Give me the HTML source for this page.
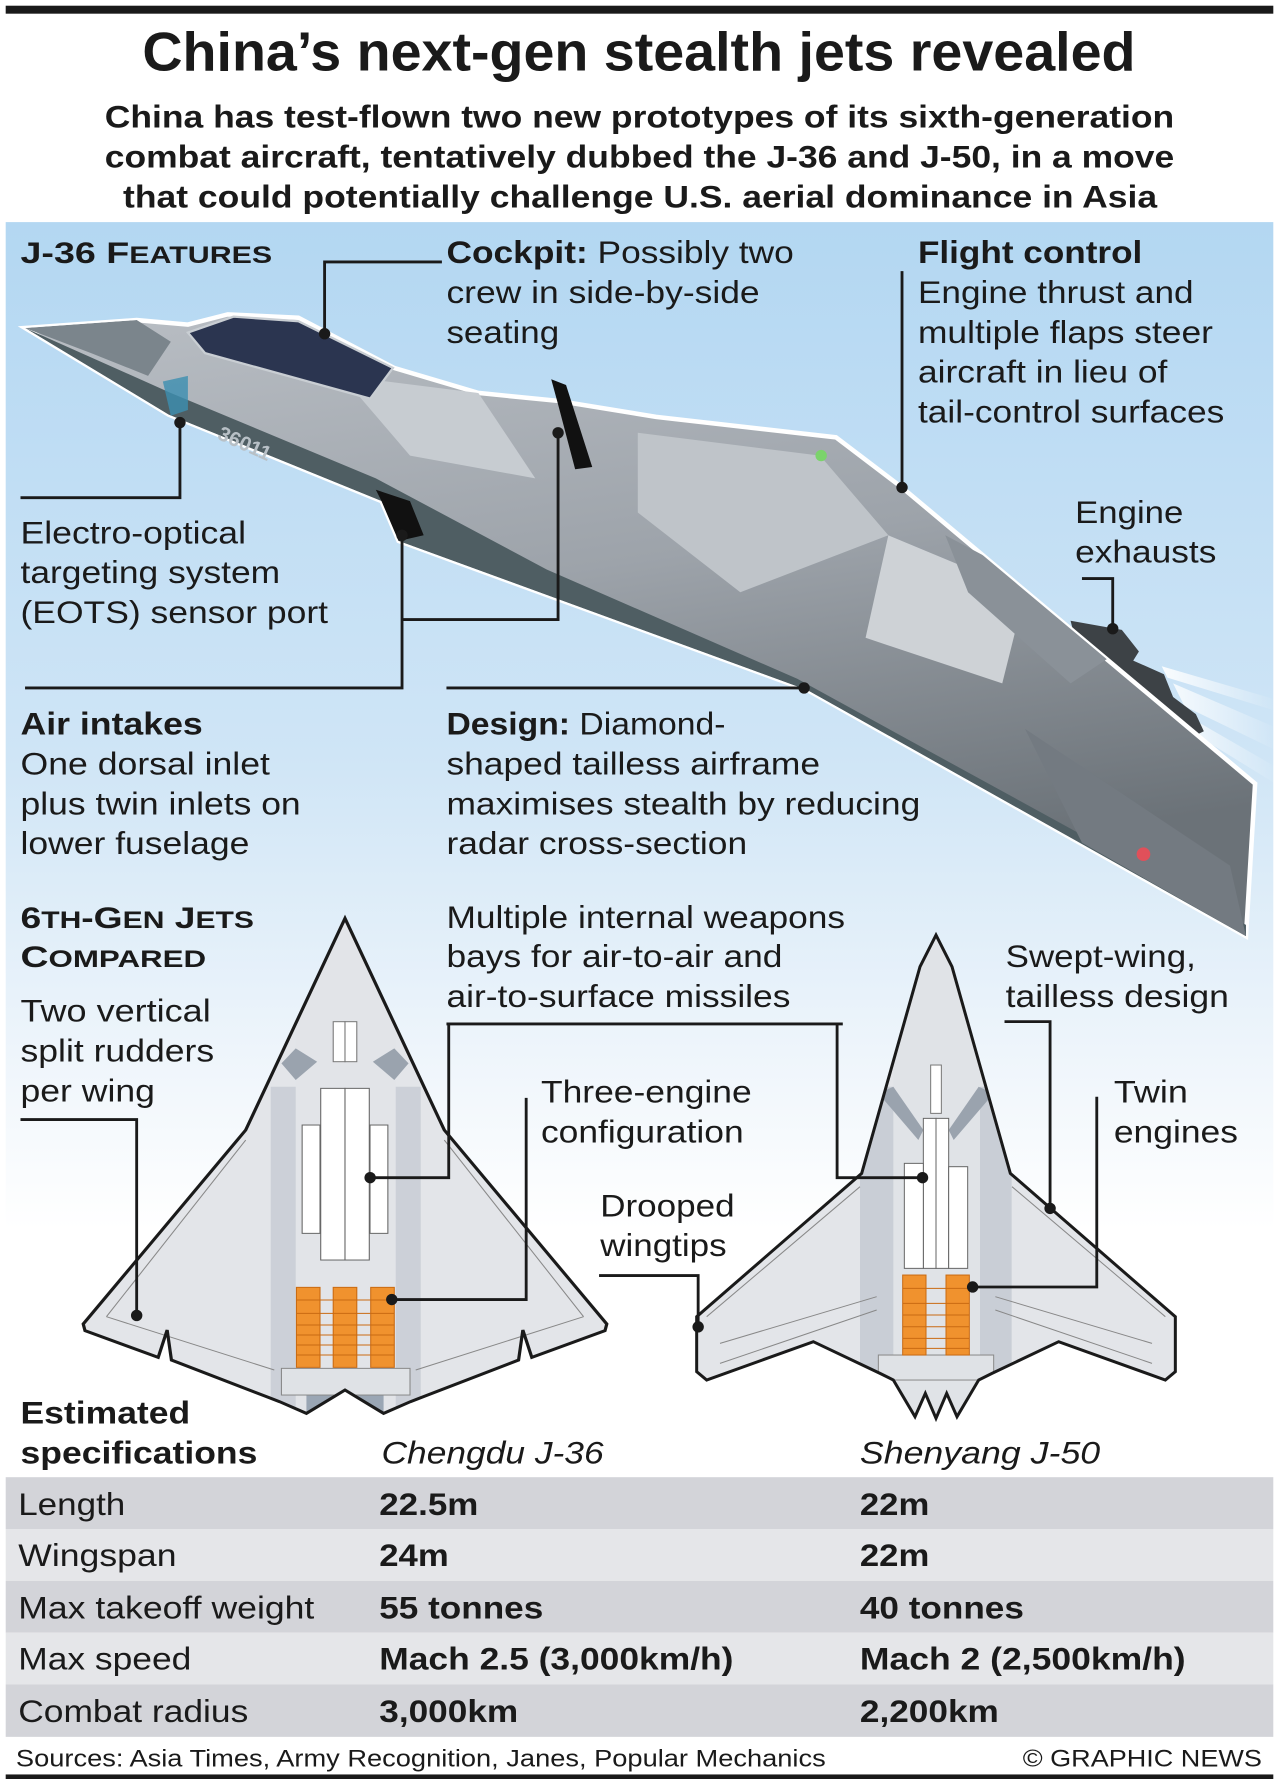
<!DOCTYPE html>
<html><head><meta charset="utf-8"><style>
html,body{margin:0;padding:0;background:#fff}
svg{display:block}
text{font-family:"Liberation Sans",Arial,sans-serif;fill:#1a1a1a}
.b{font-weight:bold}
.t{font-size:28px}
</style></head><body>
<svg width="1279" height="1783" viewBox="0 0 1123 1565.5" xmlns="http://www.w3.org/2000/svg">
<defs>
<linearGradient id="sky" x1="0" y1="0" x2="0" y2="1">
<stop offset="0" stop-color="#b3d7f2"/><stop offset="0.45" stop-color="#cfe5f6"/><stop offset="0.7" stop-color="#eef5fb"/><stop offset="0.85" stop-color="#ffffff"/>
</linearGradient>
<linearGradient id="body" x1="0" y1="0" x2="0.3" y2="1">
<stop offset="0" stop-color="#b9bec4"/><stop offset="0.5" stop-color="#9da3aa"/><stop offset="1" stop-color="#6b7278"/>
</linearGradient>
<linearGradient id="streak" x1="0" y1="0" x2="1" y2="0">
<stop offset="0" stop-color="#fff" stop-opacity="0.9"/><stop offset="1" stop-color="#fff" stop-opacity="0"/>
</linearGradient>
<clipPath id="jetclip"><polygon points="22,288 120,281 165,285 200,276 262,279 346,323 420,345 490,352 576,366 734,384 792,428 1102,688 1094,822 709,606 350,475 335,440 148,364"/></clipPath>
<clipPath id="j36clip"><polygon points="798,55 1076,690 1531,1272 1526,1292 1321,1372 1296,1290 1284,1380 981,1505 906,1540 798,1470 690,1540 615,1505 312,1380 300,1290 275,1372 70,1292 65,1272 520,690"/></clipPath>
<clipPath id="j50clip"><polygon points="768,105 816,200 991,820 1486,1250 1486,1415 1456,1440 1136,1325 936,1420 896,1440 831,1550 800,1480 768,1555 736,1480 705,1550 640,1440 600,1420 400,1325 80,1440 50,1415 50,1250 545,820 720,200"/></clipPath>
</defs>
<rect x="0" y="0" width="1123" height="1566" fill="#fff"/>
<rect x="5" y="5" width="1113" height="7" fill="#1a1a1a"/>
<rect x="5" y="195" width="1113" height="1040" fill="url(#sky)"/>

<text x="125" y="62" class="b" font-size="48" textLength="872" lengthAdjust="spacingAndGlyphs">China’s next-gen stealth jets revealed</text>
<text x="92" y="112" class="b" font-size="28" textLength="939" lengthAdjust="spacingAndGlyphs">China has test-flown two new prototypes of its sixth-generation</text>
<text x="92" y="147" class="b" font-size="28" textLength="939" lengthAdjust="spacingAndGlyphs">combat aircraft, tentatively dubbed the J-36 and J-50, in a move</text>
<text x="108" y="182" class="b" font-size="28" textLength="908" lengthAdjust="spacingAndGlyphs">that could potentially challenge U.S. aerial dominance in Asia</text>

<!-- main jet -->
<path d="M1030,600 L1123,640 L1123,660 L1040,620Z M1045,630 L1123,675 L1123,690 L1050,645Z M1020,585 L1123,615 L1123,625 L1025,595Z" fill="url(#streak)"/>
<polygon points="940,545 985,553 1000,572 995,580 1022,592 1030,612 1050,627 1057,642 1045,648 1000,612 950,585" fill="#3d4246"/>
<polygon points="22,288 120,281 165,285 200,276 262,279 346,323 420,345 490,352 576,366 734,384 792,428 1102,688 1094,822 709,606 350,475 335,440 148,364" fill="url(#body)" stroke="#fff" stroke-width="4"/>
<g clip-path="url(#jetclip)">
<polygon points="22,288 148,364 335,440 350,475 709,606 1094,822 1094,812 700,596 480,500 330,420 150,345" fill="#4f5e63"/>
<polygon points="22,288 120,281 150,300 130,330 80,310" fill="#7b858c"/>
<polygon points="300,330 420,345 470,420 360,400" fill="#c7ccd1"/>
<polygon points="560,380 720,400 780,470 650,520 560,450" fill="#bfc4c9"/>
<polygon points="780,470 900,520 880,600 760,560" fill="#ced2d6"/>
<polygon points="830,470 1000,560 940,600 850,520" fill="#8a9198"/>
<polygon points="900,640 1080,760 1094,822 950,740" fill="#737a81"/>
</g>
<polygon points="165,292 205,278 262,282 345,323 325,350 180,310" fill="#2b3550" stroke="#c9ced3" stroke-width="2"/>
<polygon points="484,333 497,338 520,410 505,412 490,355" fill="#111"/>
<polygon points="330,430 360,440 372,470 350,475 335,440" fill="#111"/>
<polygon points="143,335 165,330 165,360 150,365" fill="#3c8fb0" opacity="0.8"/>
<text x="190" y="385" font-size="18" font-weight="bold" style="fill:#b8c0c6" transform="rotate(24 190 385)">36011</text>
<circle cx="721" cy="400" r="5" fill="#7bd36b"/>
<circle cx="1004" cy="750" r="6" fill="#e0505a"/>

<g stroke="#1a1a1a" stroke-width="2.5" fill="none">
<polyline points="388,230 285,230 285,293"/>
<polyline points="18,437 158,437 158,371"/>
<polyline points="353,544 490,544 490,380"/>
<polyline points="22,604 353,604 353,470"/>
<polyline points="392,604 706,604"/>
<polyline points="792,238 792,428"/>
<polyline points="950,508 977,508 977,552"/>
</g>
<g fill="#1a1a1a">
<circle cx="285" cy="293" r="5"/><circle cx="158" cy="371" r="5"/><circle cx="490" cy="380" r="5"/>
<circle cx="353" cy="470" r="5"/><circle cx="706" cy="604" r="5"/><circle cx="792" cy="428" r="5"/><circle cx="977" cy="552" r="5"/>
</g>

<!-- J-36 planform -->
<g transform="scale(0.87804) translate(60,900) scale(0.35714,0.33333)">
<polygon points="798,55 1076,690 1531,1272 1526,1292 1321,1372 1296,1290 1284,1380 981,1505 906,1540 798,1470 690,1540 615,1505 312,1380 300,1290 275,1372 70,1292 65,1272 520,690" fill="#e3e5e9"/>
<g clip-path="url(#j36clip)">
<polygon points="590,560 1010,560 1010,1540 590,1540" fill="#ccd0d8"/>
<polygon points="660,150 940,150 940,1540 660,1540" fill="#e2e4e8"/>
<polygon points="690,1480 906,1480 906,1545 690,1545" fill="#9aa6b4"/>
<rect x="620" y="1405" width="360" height="80" fill="#dfe2e6" stroke="#888" stroke-width="3"/>
<polygon points="620,490 660,445 720,485 660,540" fill="#9aa3ae"/>
<polygon points="976,490 936,445 876,485 936,540" fill="#9aa3ae"/>
<rect x="765" y="365" width="33" height="120" fill="#fff" stroke="#777" stroke-width="3"/>
<rect x="798" y="365" width="33" height="120" fill="#fff" stroke="#777" stroke-width="3"/>
<rect x="730" y="565" width="68" height="515" fill="#fff" stroke="#666" stroke-width="3"/>
<rect x="798" y="565" width="68" height="515" fill="#fff" stroke="#666" stroke-width="3"/>
<rect x="678" y="675" width="50" height="325" fill="#fff" stroke="#666" stroke-width="3"/>
<rect x="868" y="675" width="50" height="325" fill="#fff" stroke="#666" stroke-width="3"/>
<g fill="#f0922e" stroke="#c96a12" stroke-width="3">
<rect x="662" y="1162" width="66" height="240"/><rect x="765" y="1162" width="66" height="240"/><rect x="870" y="1162" width="66" height="240"/>
</g>
<g stroke="#c96a12" stroke-width="3">
<line x1="662" y1="1200" x2="936" y2="1200"/><line x1="662" y1="1240" x2="936" y2="1240"/><line x1="662" y1="1275" x2="936" y2="1275"/><line x1="662" y1="1305" x2="936" y2="1305"/><line x1="662" y1="1335" x2="936" y2="1335"/><line x1="662" y1="1365" x2="936" y2="1365"/>
</g>
<g stroke="#888" stroke-width="3" fill="none">
<line x1="130" y1="1250" x2="520" y2="720"/><line x1="1466" y1="1250" x2="1076" y2="720"/>
<line x1="130" y1="1250" x2="600" y2="1410"/><line x1="1466" y1="1250" x2="996" y2="1410"/>
</g>
</g>
<polygon points="798,55 1076,690 1531,1272 1526,1292 1321,1372 1296,1290 1284,1380 981,1505 906,1540 798,1470 690,1540 615,1505 312,1380 300,1290 275,1372 70,1292 65,1272 520,690" fill="none" stroke="#1a1a1a" stroke-width="9"/>
</g>

<!-- J-50 planform -->
<g transform="scale(0.87804) translate(680,900) scale(0.33333)">
<polygon points="768,105 816,200 991,820 1486,1250 1486,1415 1456,1440 1136,1325 936,1420 896,1440 831,1550 800,1480 768,1555 736,1480 705,1550 640,1440 600,1420 400,1325 80,1440 50,1415 50,1250 545,820 720,200" fill="#e3e5e9"/>
<g clip-path="url(#j50clip)">
<polygon points="540,560 995,560 995,1560 540,1560" fill="#c9ced6"/>
<polygon points="640,150 900,150 900,1560 640,1560" fill="#e0e3e7"/>
<rect x="595" y="1365" width="346" height="75" fill="#dfe2e6" stroke="#888" stroke-width="3"/>
<polygon points="595,580 640,560 730,690 715,720" fill="#9aa3ae"/>
<polygon points="941,580 896,560 806,690 821,720" fill="#9aa3ae"/>
<rect x="752" y="495" width="32" height="145" fill="#fff" stroke="#777" stroke-width="3"/>
<rect x="730" y="655" width="38" height="450" fill="#fff" stroke="#666" stroke-width="3"/>
<rect x="768" y="655" width="38" height="450" fill="#fff" stroke="#666" stroke-width="3"/>
<rect x="673" y="790" width="57" height="315" fill="#fff" stroke="#666" stroke-width="3"/>
<rect x="806" y="800" width="57" height="305" fill="#fff" stroke="#666" stroke-width="3"/>
<g fill="#f0922e" stroke="#c96a12" stroke-width="3">
<rect x="668" y="1125" width="70" height="240"/><rect x="798" y="1125" width="70" height="240"/>
</g>
<g stroke="#c96a12" stroke-width="3">
<line x1="668" y1="1165" x2="868" y2="1165"/><line x1="668" y1="1210" x2="868" y2="1210"/><line x1="668" y1="1245" x2="868" y2="1245"/><line x1="668" y1="1280" x2="868" y2="1280"/><line x1="668" y1="1315" x2="868" y2="1315"/><line x1="668" y1="1345" x2="868" y2="1345"/>
</g>
<g stroke="#888" stroke-width="3" fill="none">
<line x1="120" y1="1330" x2="590" y2="1190"/><line x1="120" y1="1390" x2="590" y2="1230"/>
<line x1="1416" y1="1330" x2="946" y2="1190"/><line x1="1416" y1="1390" x2="946" y2="1230"/>
<line x1="80" y1="1250" x2="540" y2="860"/><line x1="1456" y1="1250" x2="996" y2="860"/>
</g>
</g>
<polygon points="768,105 816,200 991,820 1486,1250 1486,1415 1456,1440 1136,1325 936,1420 896,1440 831,1550 800,1480 768,1555 736,1480 705,1550 640,1440 600,1420 400,1325 80,1440 50,1415 50,1250 545,820 720,200" fill="none" stroke="#1a1a1a" stroke-width="9"/>
</g>

<g stroke="#1a1a1a" stroke-width="2.5" fill="none">
<polyline points="18,983 120,983 120,1155"/>
<polyline points="392,899 740,899"/>
<polyline points="394,899 394,1034 325,1034"/>
<polyline points="735,899 735,1034 810,1034"/>
<polyline points="462,964 462,1141 344,1141"/>
<polyline points="526,1120 613,1120 613,1165"/>
<polyline points="882,897 922,897 922,1061"/>
<polyline points="963,963 963,1130 854,1130"/>
</g>
<g fill="#1a1a1a">
<circle cx="120" cy="1155" r="5"/><circle cx="325" cy="1034" r="5"/><circle cx="810" cy="1034" r="5"/><circle cx="344" cy="1141" r="5"/>
<circle cx="613" cy="1165" r="5"/><circle cx="922" cy="1061" r="5"/><circle cx="854" cy="1130" r="5"/>
</g>

<g class="t">
<text x="18" y="231" class="b" font-size="26" textLength="221" lengthAdjust="spacingAndGlyphs">J-36 F<tspan font-size="21">EATURES</tspan></text>
<text x="392" y="231" textLength="305" lengthAdjust="spacingAndGlyphs"><tspan class="b">Cockpit:</tspan> Possibly two</text>
<text x="392" y="266" textLength="275" lengthAdjust="spacingAndGlyphs">crew in side-by-side</text>
<text x="392" y="301" textLength="99" lengthAdjust="spacingAndGlyphs">seating</text>
<text x="806" y="231" class="b" textLength="197" lengthAdjust="spacingAndGlyphs">Flight control</text>
<text x="806" y="266" textLength="242" lengthAdjust="spacingAndGlyphs">Engine thrust and</text>
<text x="806" y="301" textLength="259" lengthAdjust="spacingAndGlyphs">multiple flaps steer</text>
<text x="806" y="336" textLength="219" lengthAdjust="spacingAndGlyphs">aircraft in lieu of</text>
<text x="806" y="371" textLength="269" lengthAdjust="spacingAndGlyphs">tail-control surfaces</text>
<text x="18" y="477" textLength="198" lengthAdjust="spacingAndGlyphs">Electro-optical</text>
<text x="18" y="512" textLength="228" lengthAdjust="spacingAndGlyphs">targeting system</text>
<text x="18" y="547" textLength="270" lengthAdjust="spacingAndGlyphs">(EOTS) sensor port</text>
<text x="944" y="459" textLength="95" lengthAdjust="spacingAndGlyphs">Engine</text>
<text x="944" y="494" textLength="124" lengthAdjust="spacingAndGlyphs">exhausts</text>
<text x="18" y="645" class="b" textLength="160" lengthAdjust="spacingAndGlyphs">Air intakes</text>
<text x="18" y="680" textLength="219" lengthAdjust="spacingAndGlyphs">One dorsal inlet</text>
<text x="18" y="715" textLength="246" lengthAdjust="spacingAndGlyphs">plus twin inlets on</text>
<text x="18" y="750" textLength="201" lengthAdjust="spacingAndGlyphs">lower fuselage</text>
<text x="392" y="645" textLength="245" lengthAdjust="spacingAndGlyphs"><tspan class="b">Design:</tspan> Diamond-</text>
<text x="392" y="680" textLength="328" lengthAdjust="spacingAndGlyphs">shaped tailless airframe</text>
<text x="392" y="715" textLength="416" lengthAdjust="spacingAndGlyphs">maximises stealth by reducing</text>
<text x="392" y="750" textLength="264" lengthAdjust="spacingAndGlyphs">radar cross-section</text>
<text x="18" y="815" class="b" font-size="26" textLength="205" lengthAdjust="spacingAndGlyphs">6<tspan font-size="21">TH</tspan>-G<tspan font-size="21">EN</tspan> J<tspan font-size="21">ETS</tspan></text>
<text x="18" y="849" class="b" font-size="26" textLength="163" lengthAdjust="spacingAndGlyphs">C<tspan font-size="21">OMPARED</tspan></text>
<text x="18" y="897" textLength="167" lengthAdjust="spacingAndGlyphs">Two vertical</text>
<text x="18" y="932" textLength="170" lengthAdjust="spacingAndGlyphs">split rudders</text>
<text x="18" y="967" textLength="118" lengthAdjust="spacingAndGlyphs">per wing</text>
<text x="392" y="815" textLength="350" lengthAdjust="spacingAndGlyphs">Multiple internal weapons</text>
<text x="392" y="849" textLength="295" lengthAdjust="spacingAndGlyphs">bays for air-to-air and</text>
<text x="392" y="884" textLength="302" lengthAdjust="spacingAndGlyphs">air-to-surface missiles</text>
<text x="883" y="849" textLength="167" lengthAdjust="spacingAndGlyphs">Swept-wing,</text>
<text x="883" y="884" textLength="196" lengthAdjust="spacingAndGlyphs">tailless design</text>
<text x="475" y="968" textLength="185" lengthAdjust="spacingAndGlyphs">Three-engine</text>
<text x="475" y="1003" textLength="178" lengthAdjust="spacingAndGlyphs">configuration</text>
<text x="978" y="968" textLength="65" lengthAdjust="spacingAndGlyphs">Twin</text>
<text x="978" y="1003" textLength="109" lengthAdjust="spacingAndGlyphs">engines</text>
<text x="527" y="1068" textLength="118" lengthAdjust="spacingAndGlyphs">Drooped</text>
<text x="527" y="1103" textLength="111" lengthAdjust="spacingAndGlyphs">wingtips</text>
<text x="18" y="1250" class="b" textLength="149" lengthAdjust="spacingAndGlyphs">Estimated</text>
<text x="18" y="1285" class="b" textLength="208" lengthAdjust="spacingAndGlyphs">specifications</text>
<text x="335" y="1285" font-style="italic" textLength="195" lengthAdjust="spacingAndGlyphs">Chengdu J-36</text>
<text x="755" y="1285" font-style="italic" textLength="211" lengthAdjust="spacingAndGlyphs">Shenyang J-50</text>
</g>

<rect x="5" y="1297" width="1113" height="45.5" fill="#d3d4d9"/>
<rect x="5" y="1342.5" width="1113" height="45.5" fill="#e5e6e9"/>
<rect x="5" y="1388" width="1113" height="45.5" fill="#d3d4d9"/>
<rect x="5" y="1433.5" width="1113" height="45.5" fill="#e5e6e9"/>
<rect x="5" y="1479" width="1113" height="46" fill="#d3d4d9"/>
<g class="t">
<text x="16" y="1330" textLength="94" lengthAdjust="spacingAndGlyphs">Length</text>
<text x="333" y="1330" class="b" textLength="87" lengthAdjust="spacingAndGlyphs">22.5m</text>
<text x="755" y="1330" class="b" textLength="61" lengthAdjust="spacingAndGlyphs">22m</text>
<text x="16" y="1375" textLength="139" lengthAdjust="spacingAndGlyphs">Wingspan</text>
<text x="333" y="1375" class="b" textLength="61" lengthAdjust="spacingAndGlyphs">24m</text>
<text x="755" y="1375" class="b" textLength="61" lengthAdjust="spacingAndGlyphs">22m</text>
<text x="16" y="1421" textLength="260" lengthAdjust="spacingAndGlyphs">Max takeoff weight</text>
<text x="333" y="1421" class="b" textLength="144" lengthAdjust="spacingAndGlyphs">55 tonnes</text>
<text x="755" y="1421" class="b" textLength="144" lengthAdjust="spacingAndGlyphs">40 tonnes</text>
<text x="16" y="1466" textLength="152" lengthAdjust="spacingAndGlyphs">Max speed</text>
<text x="333" y="1466" class="b" textLength="311" lengthAdjust="spacingAndGlyphs">Mach 2.5 (3,000km/h)</text>
<text x="755" y="1466" class="b" textLength="286" lengthAdjust="spacingAndGlyphs">Mach 2 (2,500km/h)</text>
<text x="16" y="1512" textLength="202" lengthAdjust="spacingAndGlyphs">Combat radius</text>
<text x="333" y="1512" class="b" textLength="122" lengthAdjust="spacingAndGlyphs">3,000km</text>
<text x="755" y="1512" class="b" textLength="122" lengthAdjust="spacingAndGlyphs">2,200km</text>
</g>
<text x="14" y="1551" font-size="21" textLength="711" lengthAdjust="spacingAndGlyphs">Sources: Asia Times, Army Recognition, Janes, Popular Mechanics</text>
<text x="898" y="1551" font-size="21" textLength="210" lengthAdjust="spacingAndGlyphs">© GRAPHIC NEWS</text>
<rect x="5" y="1558" width="1113" height="4" fill="#1a1a1a"/>
</svg>
</body></html>
